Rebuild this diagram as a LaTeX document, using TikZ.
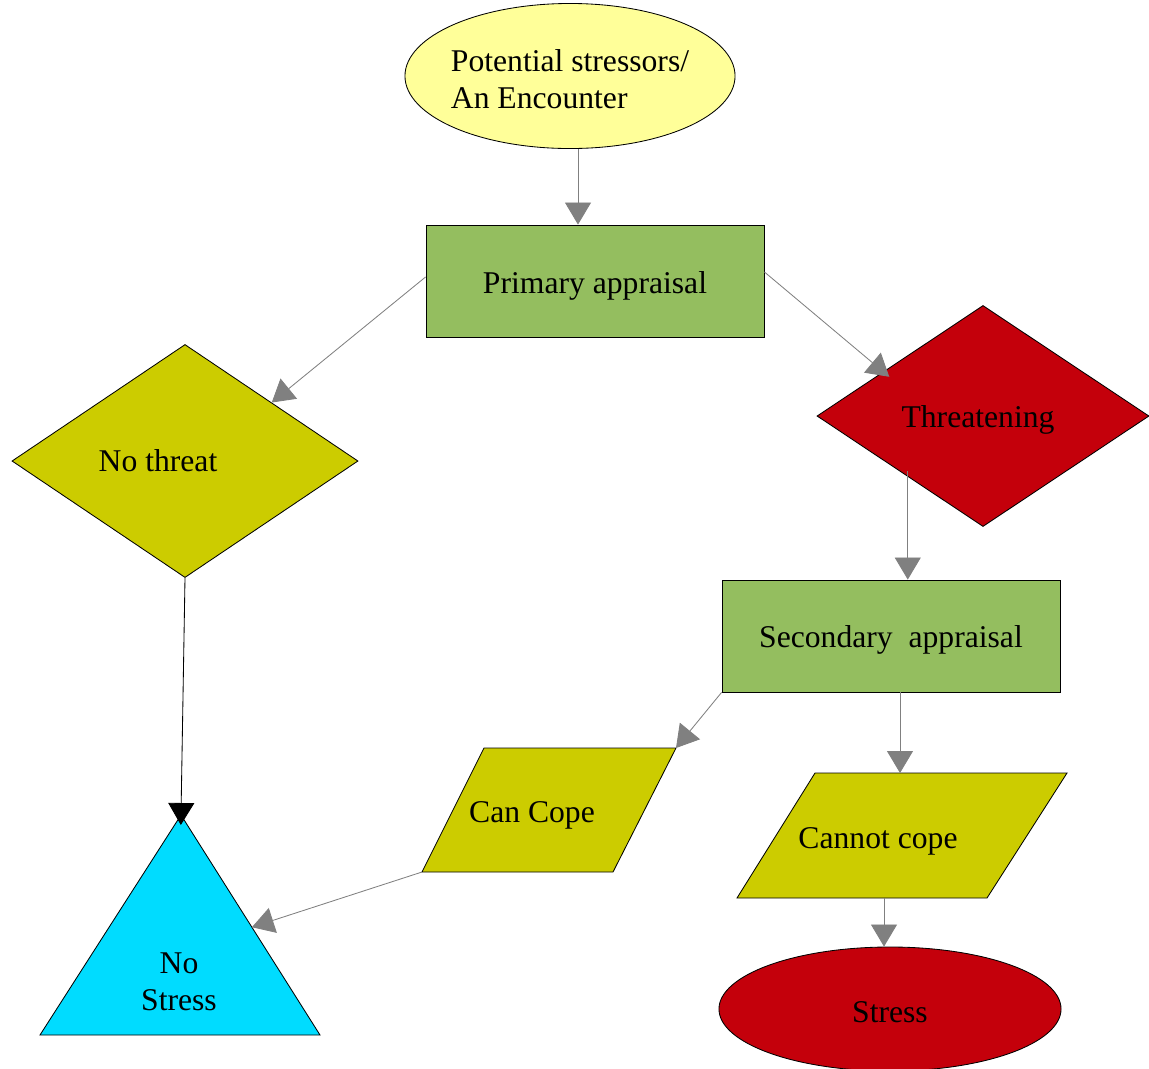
\documentclass[tikz,border=0pt]{standalone}
\usepackage{fontspec}
\setmainfont{Liberation Serif}
\usetikzlibrary{shapes.geometric,arrows.meta,calc}

\definecolor{paleyellow}{HTML}{FFFF99}
\definecolor{leafgreen}{HTML}{94BE5F}
\definecolor{mustard}{HTML}{CCCC00}
\definecolor{alarmred}{HTML}{C4000B}
\definecolor{skyblue}{HTML}{00DCFF}

\tikzset{
  shapeline/.style={draw=black, line width=0.6pt, inner sep=0pt},
  oval/.style={shapeline, ellipse},
  box/.style={shapeline, rectangle, fill=leafgreen, minimum width=8.45cm, minimum height=2.8cm},
  choice/.style={shapeline, diamond},
  flow/.style={draw=gray, line width=0.6pt, -{Triangle[length=0.55cm,width=0.65cm]}},
  blackflow/.style={draw=black, line width=0.6pt, -{Triangle[length=0.55cm,width=0.65cm]}}
}

\begin{document}
\begin{tikzpicture}[x=0.025cm, y=-0.025cm, font=\fontsize{22.5}{26}\selectfont]
    \useasboundingbox (0,0) rectangle (1149,1068);

    % Encounter and primary appraisal
    % ---------------------
    \node[oval, fill=paleyellow, minimum width=8.25cm, minimum height=3.625cm,
          label={[align=left, yshift=-0.08cm]center:Potential stressors/\\An Encounter}] (encounter) at (570,76) {};
    \node[box, label={[yshift=-0.12cm]center:Primary appraisal}] (primary) at (595,281) {};

    % Two outcomes
    % ---------------------
    \node[choice, fill=mustard, minimum width=8.65cm, minimum height=5.825cm,
          label={[xshift=-0.675cm]center:No threat}] (nothreat) at (185,461) {};
    \node[choice, fill=alarmred, minimum width=8.3cm, minimum height=5.525cm,
          label={[xshift=-0.125cm, yshift=-0.1cm]center:Threatening}] (threat) at (983,416) {};

    % Secondary appraisal and coping
    % ---------------------
    \node[box, label={[yshift=-0.1cm]center:Secondary\ \ appraisal}] (secondary) at (891,636) {};
    \coordinate (canTL) at (484,748);
    \coordinate (canTR) at (676,748);
    \coordinate (canBR) at (613,872);
    \coordinate (canBL) at (422,872);
    \draw[line width=0.6pt, fill=mustard] (canTL) -- (canTR) -- (canBR) -- (canBL) -- cycle;
    \node (cancope) at (532,815) {Can Cope};
    \coordinate (notTL) at (815,773);
    \coordinate (notTR) at (1067,773);
    \coordinate (notBR) at (987,898);
    \coordinate (notBL) at (737,898);
    \draw[line width=0.6pt, fill=mustard] (notTL) -- (notTR) -- (notBR) -- (notBL) -- cycle;
    \node (cannot) at (878,841) {Cannot cope};

    % Results
    % ---------------------
    \coordinate (apex) at (181,815);
    \coordinate (leftfoot) at (40,1035);
    \coordinate (rightfoot) at (320,1035);
    \draw[line width=0.6pt, fill=skyblue] (apex) -- (rightfoot) -- (leftfoot) -- cycle;
    \node[align=center] (nostress) at (179,982) {No\\Stress};
    \node[oval, fill=alarmred, minimum width=8.55cm, minimum height=3.1cm,
          label={[yshift=-0.08cm]center:Stress}] (stress) at (890,1009) {};

    % Connectors
    % ---------------------
    \coordinate (secfoot) at ($(secondary.south)+(9,0)$);
    \coordinate (threatfoot) at ($(threat.south west)+(8,0)$);
    \coordinate (stresstop) at ($(stress.north)+(-6,0)$);
    \draw[flow] ($(encounter.south)+(8,0)$) -- ($(primary.north)+(-17,0)$);
    \draw[flow] ($(primary.west)+(0,-4)$) -- (nothreat.north east);
    \draw[flow, shorten >=-0.2cm] ($(primary.east)+(0,-9)$) -- ($(threat.west)!0.4!(threat.north)$);
    \draw[flow] (threatfoot) -- (threatfoot |- secondary.north);
    \draw[blackflow, shorten >=-0.25cm] (nothreat.south) -- (apex);
    \draw[flow] (secondary.south west) -- (canTR);
    \draw[flow] (secfoot) -- (secfoot |- notTL);
    \draw[flow] (canBL) -- ($(apex)!0.51!(rightfoot)$);
    \draw[flow] (notBL -| stresstop) -- (stresstop);
\end{tikzpicture}
\end{document}
